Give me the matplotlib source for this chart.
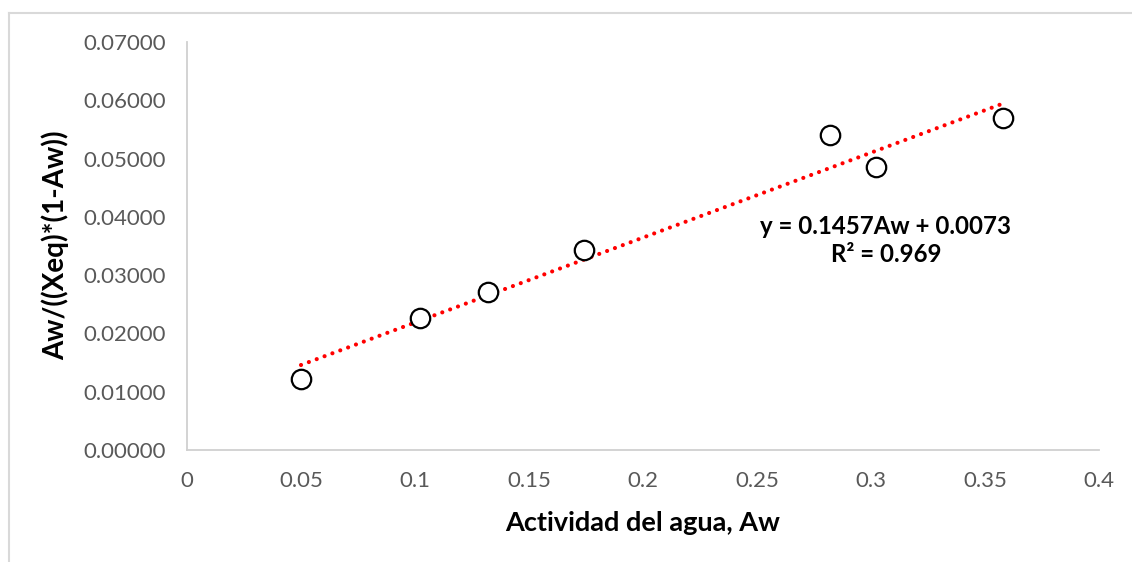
import matplotlib
matplotlib.use("Agg")
import matplotlib.pyplot as plt
from matplotlib.lines import Line2D
import numpy as np

# Data
aw = [0.050, 0.102, 0.132, 0.174, 0.282, 0.302, 0.358]
yval = [0.01213, 0.02265, 0.0271, 0.0343, 0.0540, 0.04855, 0.05696]
slope = 0.1457
intercept = 0.0073
r2 = 0.969
xticks = [0, 0.05, 0.1, 0.15, 0.2, 0.25, 0.3, 0.35, 0.4]
xtick_labels = ["0", "0.05", "0.1", "0.15", "0.2", "0.25", "0.3", "0.35", "0.4"]
yticks = [0.0, 0.01, 0.02, 0.03, 0.04, 0.05, 0.06, 0.07]
ytick_labels = ["0.00000", "0.01000", "0.02000", "0.03000", "0.04000", "0.05000", "0.06000", "0.07000"]

plt.rcParams['font.family'] = ['Lato', 'DejaVu Sans']

W, H = 1132, 562
fig = plt.figure(figsize=(W / 100, H / 100), dpi=100)
ax = fig.add_axes([187 / W, 1 - 450 / H, (1099 - 187) / W, (450 - 42) / H])

# outer chart border (top and left visible)
fig.add_artist(Line2D([8.5 / W, 8.5 / W], [0, 1 - 12.5 / H], color="#d9d9d9", lw=1.5, transform=fig.transFigure))
fig.add_artist(Line2D([8.5 / W, 1], [1 - 12.5 / H, 1 - 12.5 / H], color="#d9d9d9", lw=1.5, transform=fig.transFigure))

# trendline
tx = np.array([min(aw), max(aw)])
ty = slope * tx + intercept
ax.plot(tx, ty, color="#ff0000", lw=3.0, linestyle=(0, (0.01, 2.0)), dash_capstyle="round", zorder=2)

# points
ax.plot(aw, yval, linestyle="none", marker="o", markersize=14, markerfacecolor="white",
        markeredgecolor="black", markeredgewidth=1.6, zorder=3)

ax.set_xlim(0, 0.4)
ax.set_ylim(0, 0.07)
ax.set_xticks(xticks)
ax.set_xticklabels(xtick_labels)
ax.set_yticks(yticks)
ax.set_yticklabels(ytick_labels)
ax.tick_params(axis="both", length=0, pad=15, labelsize=16, labelcolor="#595959")

for s in ["top", "right"]:
    ax.spines[s].set_visible(False)
for s in ["left", "bottom"]:
    ax.spines[s].set_color("#d0d0d0")
    ax.spines[s].set_linewidth(1.3)

fig.text(643 / W, 1 - 523 / H, "Actividad del agua, Aw", ha="center", va="center",
         fontsize=19.5, fontweight="bold", color="black")
fig.text(55 / W, 1 - 245 / H, "Aw/((Xeq)*(1-Aw))", ha="center", va="center", rotation=90,
         fontsize=20, fontweight="bold", color="black")

fig.text(886 / W, 1 - 227 / H, f"y = {slope}Aw + {intercept}", ha="center", va="center",
         fontsize=17.3, fontweight="bold", color="black")
fig.text(886 / W, 1 - 254 / H, f"R² = {r2}", ha="center", va="center",
         fontsize=17.3, fontweight="bold", color="black")

fig.savefig("out.png", dpi=100, facecolor="white")
